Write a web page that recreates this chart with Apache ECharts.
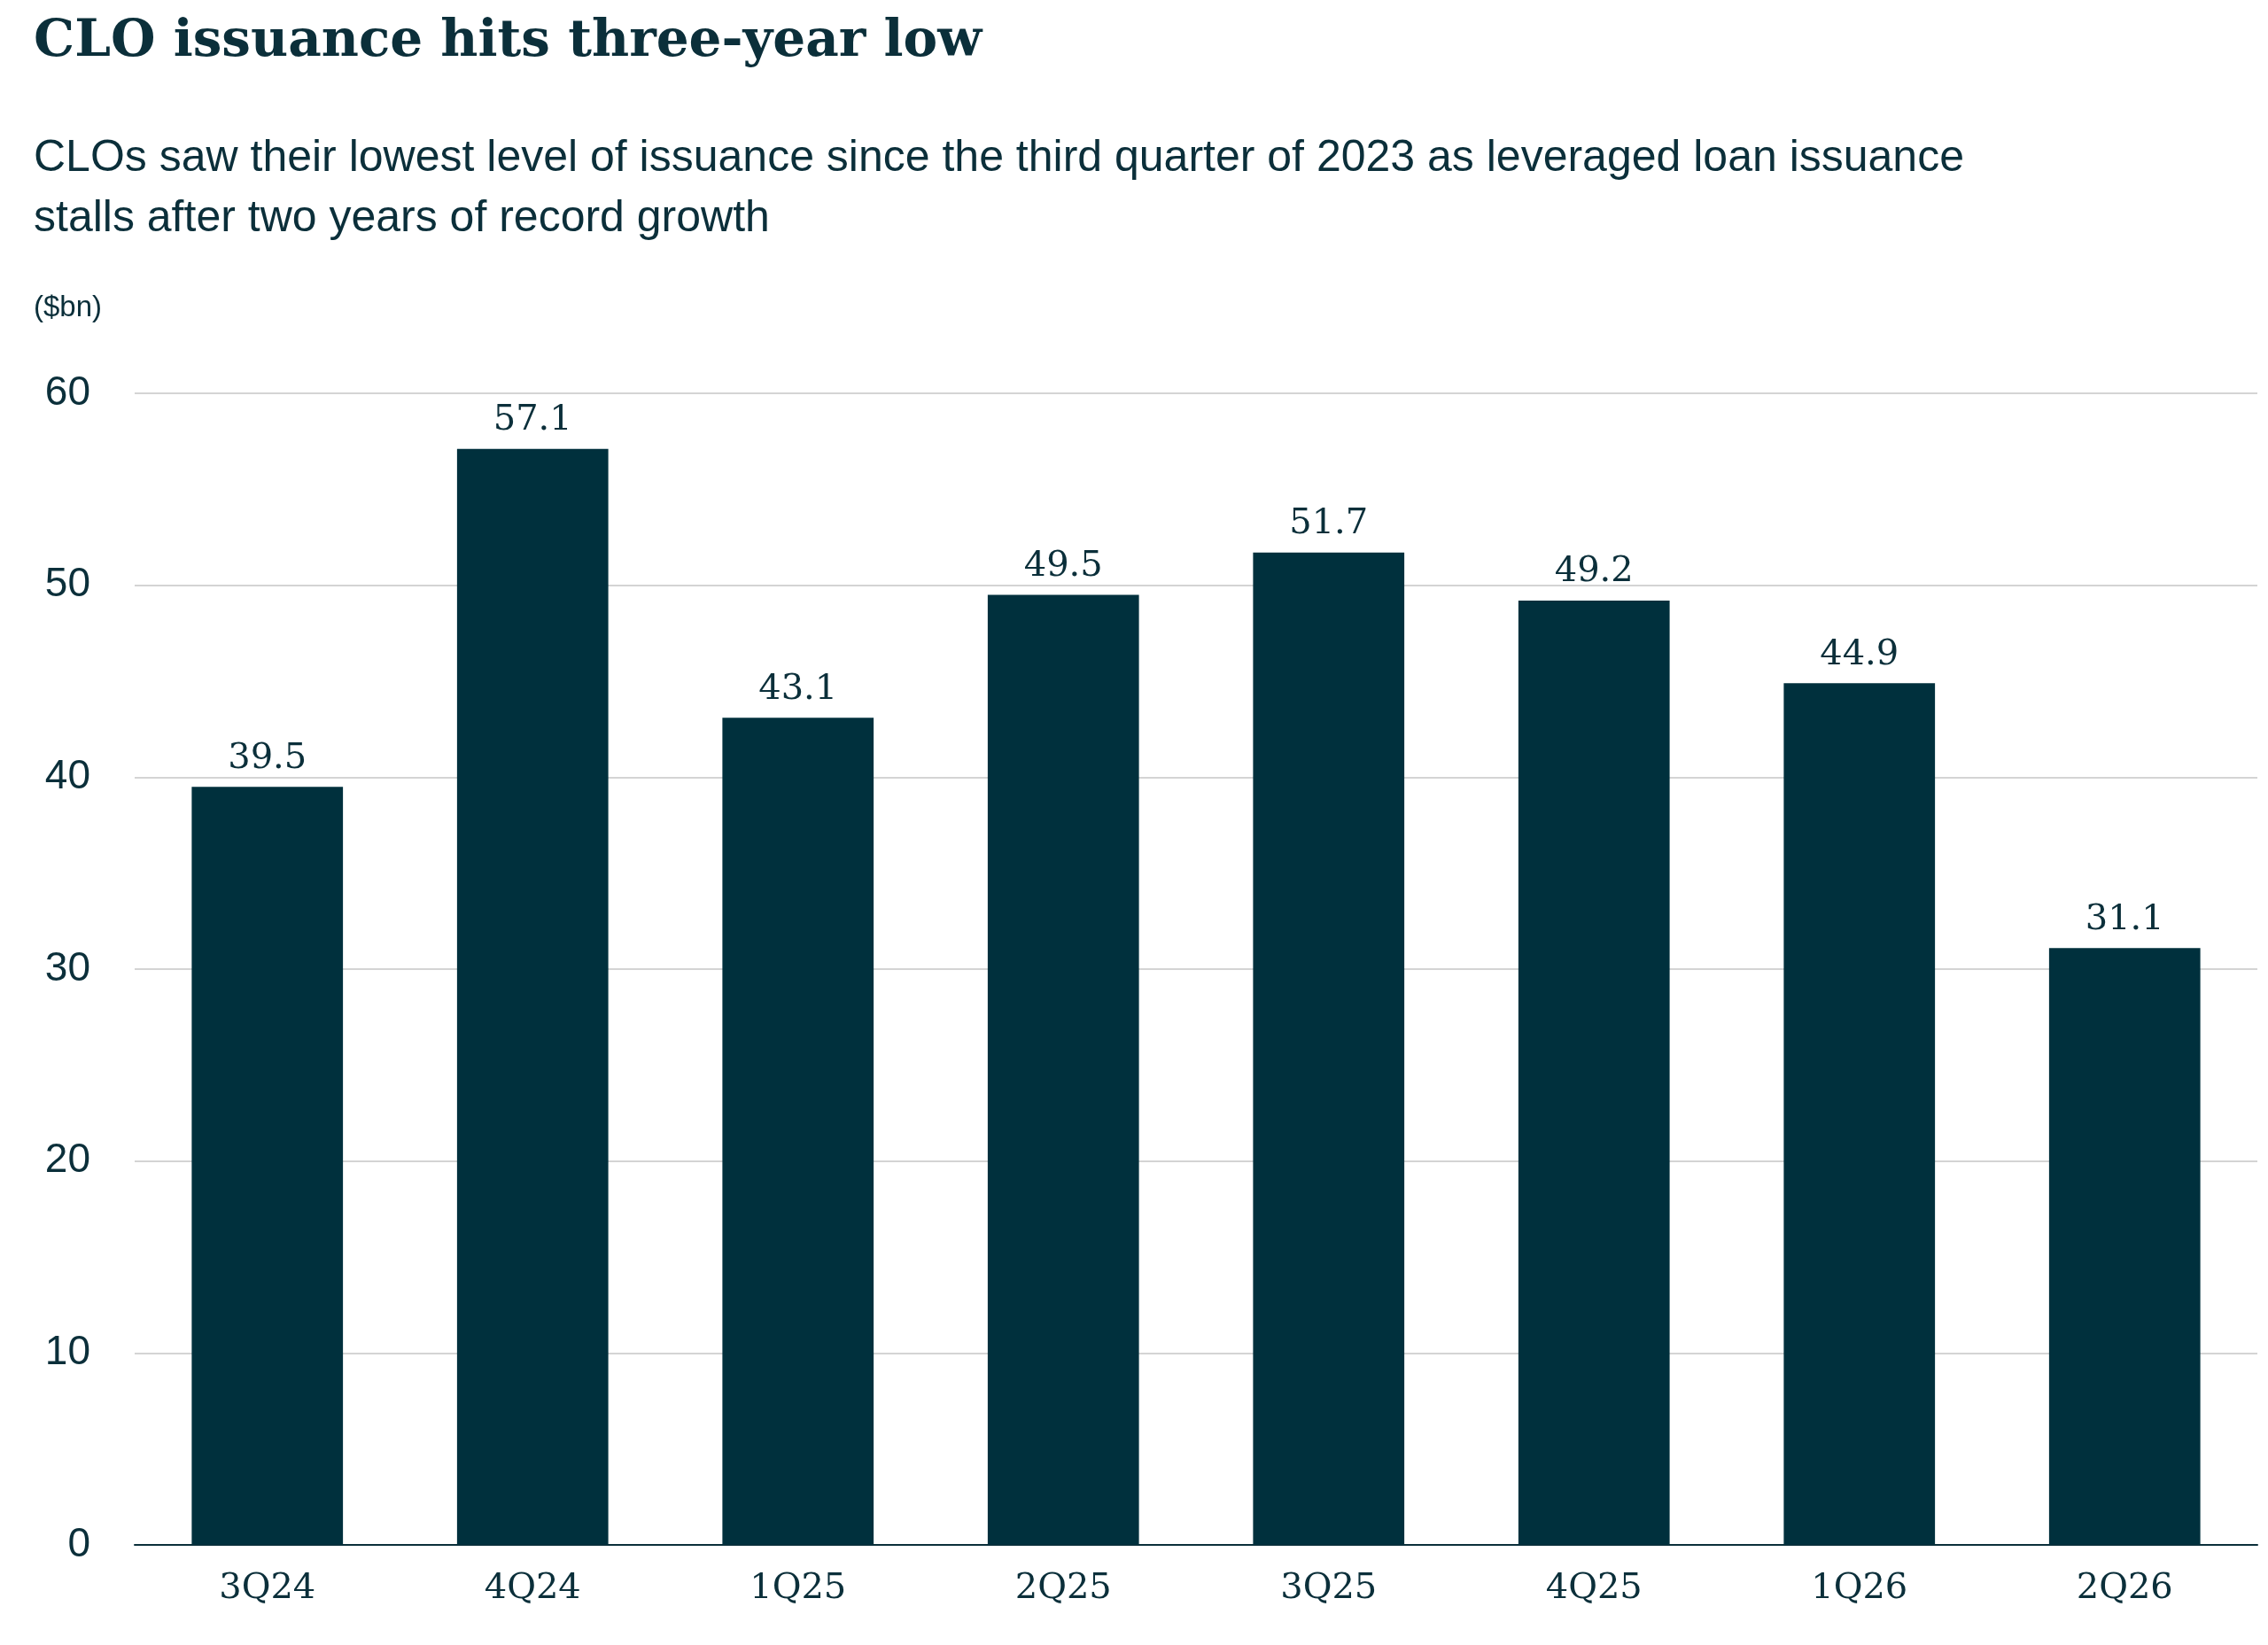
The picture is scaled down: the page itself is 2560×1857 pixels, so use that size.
<!DOCTYPE html>
<html><head><meta charset="utf-8">
<script src="https://cdn.jsdelivr.net/npm/echarts@6/dist/echarts.min.js"></script>
<style>html,body{margin:0;padding:0;background:#fff}#main{width:2560px;height:1857px}</style>
</head><body><div id="main"></div>
<script>
var quarters = ['3Q24', '4Q24', '1Q25', '2Q25', '3Q25', '4Q25', '1Q26', '2Q26'];
var issuance = [39.5, 57.1, 43.1, 49.5, 51.7, 49.2, 44.9, 31.1];
var yTicks = [0, 10, 20, 30, 40, 50, 60];

var serif = '"DejaVu Serif", "Liberation Serif", serif';
var sans = '"Liberation Sans", Arial, sans-serif';
var myChart = echarts.init(document.getElementById('main'));
myChart.setOption({
    animation: false,
    title: [{
        text: 'CLO issuance hits three-year low',
        left: 33, top: 14,
        textStyle: { fontFamily: serif, fontSize: 58, fontWeight: 'bold', color: '#0b2f3a' }
    }, {
        text: 'CLOs saw their lowest level of issuance since the third quarter of 2023 as leveraged loan issuance\nstalls after two years of record growth',
        left: 33, top: 140,
        textStyle: { fontFamily: sans, fontSize: 50, fontWeight: 'normal', color: '#0b2f3a', lineHeight: 68 }
    }, {
        text: '($bn)',
        left: 33, top: 326,
        textStyle: { fontFamily: sans, fontSize: 33, fontWeight: 'normal', color: '#0b2f3a' }
    }],
    grid: { left: 152, right: 12, top: 444, bottom: 113 },
    xAxis: {
        type: 'category', data: quarters,
        axisLine: { lineStyle: { color: '#0b2f3a', width: 2 } },
        axisTick: { show: false },
        axisLabel: { fontFamily: serif, fontSize: 40, color: '#0b2f3a', margin: 30 }
    },
    yAxis: {
        type: 'value', min: yTicks[0], max: yTicks[yTicks.length - 1], interval: 10,
        axisLine: { show: false }, axisTick: { show: false },
        splitLine: { lineStyle: { color: '#d4d4d4', width: 2 } },
        axisLabel: { fontFamily: sans, fontSize: 46, color: '#0b2f3a', margin: 50 }
    },
    series: [{
        type: 'bar', data: issuance, barWidth: '57%',
        itemStyle: { color: '#00303d' },
        label: { show: true, position: 'top', distance: 12, fontFamily: serif, fontSize: 40, color: '#0b2f3a',
                 formatter: function (p) { return p.value.toFixed(1); } }
    }]
});
</script></body></html>
